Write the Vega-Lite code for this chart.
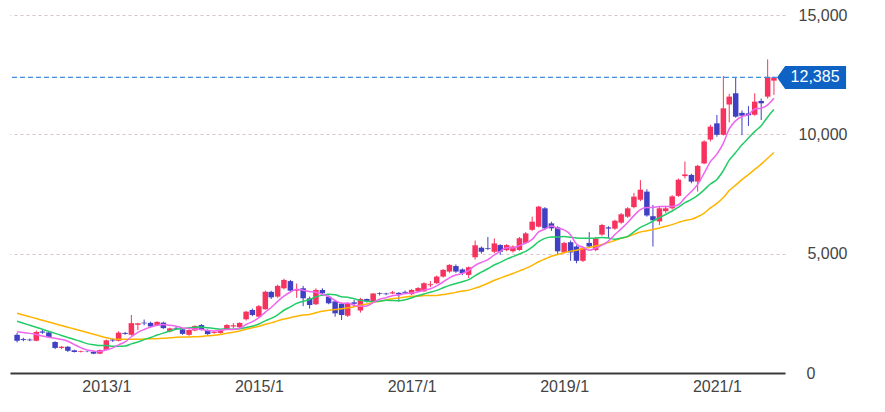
{
  "$schema": "https://vega.github.io/schema/vega-lite/v6.json",
  "width": 775,
  "height": 358,
  "autosize": {"type": "none"},
  "padding": {"left": 10, "top": 15, "right": 100, "bottom": 39},
  "background": "white",
  "config": {"view": {"stroke": null}, "font": "Liberation Sans"},
  "data": {"values": [
    {"d":"2011-11-01","o":1600,"h":1680,"l":1280,"c":1350,"m6":1730,"m12":2170,"m24":2500},
    {"d":"2011-12-01","o":1420,"h":1480,"l":1330,"c":1380,"m6":1700,"m12":2085,"m24":2427},
    {"d":"2012-01-01","o":1400,"h":1450,"l":1330,"c":1370,"m6":1660,"m12":2000,"m24":2354},
    {"d":"2012-02-01","o":1350,"h":1780,"l":1330,"c":1720,"m6":1610,"m12":1915,"m24":2281},
    {"d":"2012-03-01","o":1740,"h":1800,"l":1640,"c":1690,"m6":1550,"m12":1830,"m24":2208},
    {"d":"2012-04-01","o":1700,"h":1740,"l":1470,"c":1500,"m6":1502,"m12":1745,"m24":2135},
    {"d":"2012-05-01","o":1300,"h":1330,"l":1000,"c":1050,"m6":1452,"m12":1660,"m24":2062},
    {"d":"2012-06-01","o":1050,"h":1130,"l":1000,"c":1100,"m6":1405,"m12":1575,"m24":1990},
    {"d":"2012-07-01","o":1100,"h":1130,"l":880,"c":930,"m6":1332,"m12":1490,"m24":1917},
    {"d":"2012-08-01","o":950,"h":980,"l":860,"c":880,"m6":1192,"m12":1405,"m24":1844},
    {"d":"2012-09-01","o":880,"h":940,"l":860,"c":910,"m6":1062,"m12":1320,"m24":1771},
    {"d":"2012-10-01","o":905,"h":930,"l":870,"c":895,"m6":961,"m12":1231,"m24":1698},
    {"d":"2012-11-01","o":890,"h":900,"l":790,"c":810,"m6":921,"m12":1186,"m24":1625},
    {"d":"2012-12-01","o":810,"h":980,"l":790,"c":960,"m6":898,"m12":1151,"m24":1552},
    {"d":"2013-01-01","o":960,"h":1400,"l":940,"c":1370,"m6":971,"m12":1151,"m24":1480},
    {"d":"2013-02-01","o":1400,"h":1450,"l":1300,"c":1360,"m6":1051,"m12":1121,"m24":1430},
    {"d":"2013-03-01","o":1350,"h":1750,"l":1320,"c":1690,"m6":1181,"m12":1121,"m24":1415},
    {"d":"2013-04-01","o":1680,"h":1720,"l":1600,"c":1640,"m6":1305,"m12":1133,"m24":1410},
    {"d":"2013-05-01","o":1600,"h":2430,"l":1560,"c":2090,"m6":1518,"m12":1220,"m24":1410},
    {"d":"2013-06-01","o":2020,"h":2100,"l":1800,"c":2080,"m6":1705,"m12":1301,"m24":1415},
    {"d":"2013-07-01","o":2110,"h":2240,"l":2000,"c":2080,"m6":1823,"m12":1397,"m24":1420},
    {"d":"2013-08-01","o":2100,"h":2150,"l":1900,"c":1950,"m6":1922,"m12":1486,"m24":1430},
    {"d":"2013-09-01","o":2010,"h":2170,"l":1980,"c":2140,"m6":1997,"m12":1589,"m24":1440},
    {"d":"2013-10-01","o":2110,"h":2150,"l":1850,"c":1880,"m6":2037,"m12":1671,"m24":1451},
    {"d":"2013-11-01","o":1740,"h":1900,"l":1700,"c":1870,"m6":2000,"m12":1759,"m24":1473},
    {"d":"2013-12-01","o":1890,"h":1930,"l":1820,"c":1860,"m6":1963,"m12":1834,"m24":1493},
    {"d":"2014-01-01","o":1830,"h":1870,"l":1600,"c":1640,"m6":1890,"m12":1857,"m24":1504},
    {"d":"2014-02-01","o":1600,"h":1830,"l":1560,"c":1800,"m6":1865,"m12":1893,"m24":1507},
    {"d":"2014-03-01","o":1780,"h":2000,"l":1750,"c":1970,"m6":1837,"m12":1917,"m24":1519},
    {"d":"2014-04-01","o":2010,"h":2050,"l":1780,"c":1800,"m6":1823,"m12":1930,"m24":1531},
    {"d":"2014-05-01","o":1800,"h":1830,"l":1600,"c":1630,"m6":1783,"m12":1892,"m24":1556},
    {"d":"2014-06-01","o":1680,"h":1760,"l":1650,"c":1720,"m6":1760,"m12":1862,"m24":1581},
    {"d":"2014-07-01","o":1680,"h":1830,"l":1650,"c":1800,"m6":1787,"m12":1838,"m24":1618},
    {"d":"2014-08-01","o":1830,"h":2050,"l":1800,"c":2010,"m6":1822,"m12":1843,"m24":1665},
    {"d":"2014-09-01","o":1950,"h":2090,"l":1870,"c":2000,"m6":1827,"m12":1832,"m24":1710},
    {"d":"2014-10-01","o":1920,"h":2120,"l":1880,"c":2100,"m6":1877,"m12":1850,"m24":1760},
    {"d":"2014-11-01","o":2250,"h":2600,"l":2200,"c":2570,"m6":2033,"m12":1908,"m24":1834},
    {"d":"2014-12-01","o":2640,"h":2700,"l":2380,"c":2430,"m6":2152,"m12":1956,"m24":1895},
    {"d":"2015-01-01","o":2360,"h":2850,"l":2330,"c":2800,"m6":2318,"m12":2053,"m24":1955},
    {"d":"2015-02-01","o":2670,"h":3450,"l":2650,"c":3400,"m6":2550,"m12":2186,"m24":2040},
    {"d":"2015-03-01","o":3400,"h":3450,"l":3100,"c":3170,"m6":2745,"m12":2286,"m24":2101},
    {"d":"2015-04-01","o":3200,"h":3700,"l":3150,"c":3650,"m6":3003,"m12":2440,"m24":2185},
    {"d":"2015-05-01","o":3550,"h":3950,"l":3500,"c":3900,"m6":3225,"m12":2629,"m24":2260},
    {"d":"2015-06-01","o":3850,"h":3900,"l":3400,"c":3450,"m6":3395,"m12":2773,"m24":2318},
    {"d":"2015-07-01","o":3450,"h":3750,"l":3150,"c":3500,"m6":3512,"m12":2915,"m24":2377},
    {"d":"2015-08-01","o":3550,"h":3650,"l":2800,"c":3130,"m6":3467,"m12":3008,"m24":2426},
    {"d":"2015-09-01","o":3130,"h":3200,"l":2700,"c":2850,"m6":3413,"m12":3079,"m24":2455},
    {"d":"2015-10-01","o":2880,"h":3550,"l":2850,"c":3480,"m6":3385,"m12":3194,"m24":2522},
    {"d":"2015-11-01","o":3480,"h":3550,"l":3300,"c":3340,"m6":3292,"m12":3258,"m24":2583},
    {"d":"2015-12-01","o":3200,"h":3250,"l":2880,"c":2920,"m6":3203,"m12":3299,"m24":2628},
    {"d":"2016-01-01","o":3000,"h":3050,"l":2360,"c":2500,"m6":3037,"m12":3274,"m24":2663},
    {"d":"2016-02-01","o":2900,"h":2950,"l":2220,"c":2430,"m6":2920,"m12":3193,"m24":2690},
    {"d":"2016-03-01","o":2400,"h":2950,"l":2350,"c":2920,"m6":2932,"m12":3173,"m24":2729},
    {"d":"2016-04-01","o":2960,"h":3060,"l":2780,"c":2900,"m6":2835,"m12":3110,"m24":2775},
    {"d":"2016-05-01","o":2620,"h":3150,"l":2530,"c":3100,"m6":2795,"m12":3043,"m24":2836},
    {"d":"2016-06-01","o":3100,"h":3120,"l":2950,"c":3000,"m6":2808,"m12":3006,"m24":2890},
    {"d":"2016-07-01","o":3000,"h":3350,"l":2980,"c":3330,"m6":2947,"m12":2992,"m24":2953},
    {"d":"2016-08-01","o":3340,"h":3380,"l":3250,"c":3310,"m6":3093,"m12":3007,"m24":3008},
    {"d":"2016-09-01","o":3330,"h":3360,"l":3260,"c":3300,"m6":3157,"m12":3044,"m24":3062},
    {"d":"2016-10-01","o":3330,"h":3440,"l":3300,"c":3380,"m6":3237,"m12":3036,"m24":3115},
    {"d":"2016-11-01","o":3360,"h":3380,"l":2990,"c":3290,"m6":3268,"m12":3032,"m24":3145},
    {"d":"2016-12-01","o":3400,"h":3450,"l":3300,"c":3360,"m6":3328,"m12":3068,"m24":3184},
    {"d":"2017-01-01","o":3300,"h":3520,"l":3270,"c":3480,"m6":3353,"m12":3150,"m24":3212},
    {"d":"2017-02-01","o":3420,"h":3600,"l":3400,"c":3560,"m6":3395,"m12":3244,"m24":3219},
    {"d":"2017-03-01","o":3420,"h":3800,"l":3400,"c":3760,"m6":3472,"m12":3314,"m24":3243},
    {"d":"2017-04-01","o":3680,"h":3850,"l":3600,"c":3720,"m6":3528,"m12":3383,"m24":3246},
    {"d":"2017-05-01","o":3760,"h":4080,"l":3740,"c":4040,"m6":3653,"m12":3461,"m24":3252},
    {"d":"2017-06-01","o":4040,"h":4360,"l":4000,"c":4320,"m6":3813,"m12":3571,"m24":3288},
    {"d":"2017-07-01","o":4250,"h":4560,"l":4200,"c":4530,"m6":3988,"m12":3671,"m24":3331},
    {"d":"2017-08-01","o":4480,"h":4550,"l":4200,"c":4250,"m6":4103,"m12":3749,"m24":3378},
    {"d":"2017-09-01","o":4340,"h":4380,"l":4100,"c":4180,"m6":4173,"m12":3823,"m24":3433},
    {"d":"2017-10-01","o":4110,"h":4460,"l":3980,"c":4430,"m6":4292,"m12":3910,"m24":3473},
    {"d":"2017-11-01","o":4850,"h":5550,"l":4750,"c":5350,"m6":4510,"m12":4082,"m24":3557},
    {"d":"2017-12-01","o":5250,"h":5300,"l":5000,"c":5080,"m6":4637,"m12":4225,"m24":3647},
    {"d":"2018-01-01","o":5230,"h":5700,"l":5150,"c":5200,"m6":4748,"m12":4368,"m24":3759},
    {"d":"2018-02-01","o":5080,"h":5640,"l":5020,"c":5430,"m6":4945,"m12":4524,"m24":3884},
    {"d":"2018-03-01","o":5360,"h":5400,"l":4950,"c":5080,"m6":5095,"m12":4634,"m24":3974},
    {"d":"2018-04-01","o":5150,"h":5400,"l":5100,"c":5360,"m6":5250,"m12":4771,"m24":4077},
    {"d":"2018-05-01","o":5100,"h":5350,"l":5050,"c":5300,"m6":5242,"m12":4876,"m24":4168},
    {"d":"2018-06-01","o":5150,"h":5700,"l":5120,"c":5650,"m6":5337,"m12":4987,"m24":4279},
    {"d":"2018-07-01","o":5450,"h":5900,"l":5400,"c":5850,"m6":5445,"m12":5097,"m24":4384},
    {"d":"2018-08-01","o":6000,"h":6550,"l":5950,"c":6340,"m6":5597,"m12":5271,"m24":4510},
    {"d":"2018-09-01","o":6130,"h":7000,"l":6100,"c":6970,"m6":5912,"m12":5503,"m24":4663},
    {"d":"2018-10-01","o":6900,"h":6950,"l":6000,"c":6060,"m6":6028,"m12":5639,"m24":4775},
    {"d":"2018-11-01","o":6270,"h":6340,"l":5950,"c":6060,"m6":6155,"m12":5698,"m24":4890},
    {"d":"2018-12-01","o":6100,"h":6150,"l":4950,"c":5100,"m6":6063,"m12":5700,"m24":4963},
    {"d":"2019-01-01","o":5050,"h":5500,"l":5000,"c":5450,"m6":5997,"m12":5721,"m24":5045},
    {"d":"2019-02-01","o":5480,"h":5550,"l":4700,"c":5050,"m6":5782,"m12":5689,"m24":5107},
    {"d":"2019-03-01","o":5300,"h":5350,"l":4600,"c":4700,"m6":5403,"m12":5658,"m24":5146},
    {"d":"2019-04-01","o":4700,"h":5300,"l":4650,"c":5250,"m6":5268,"m12":5648,"m24":5210},
    {"d":"2019-05-01","o":5450,"h":5900,"l":5250,"c":5300,"m6":5142,"m12":5648,"m24":5262},
    {"d":"2019-06-01","o":5150,"h":5700,"l":5100,"c":5640,"m6":5232,"m12":5648,"m24":5317},
    {"d":"2019-07-01","o":5800,"h":6250,"l":5750,"c":6200,"m6":5357,"m12":5677,"m24":5387},
    {"d":"2019-08-01","o":6100,"h":6150,"l":5650,"c":6050,"m6":5523,"m12":5653,"m24":5462},
    {"d":"2019-09-01","o":6050,"h":6420,"l":6000,"c":6380,"m6":5803,"m12":5603,"m24":5553},
    {"d":"2019-10-01","o":6300,"h":6700,"l":6250,"c":6650,"m6":6037,"m12":5653,"m24":5646},
    {"d":"2019-11-01","o":6550,"h":6950,"l":6500,"c":6900,"m6":6303,"m12":5723,"m24":5710},
    {"d":"2019-12-01","o":6950,"h":7550,"l":6900,"c":7390,"m6":6595,"m12":5913,"m24":5807},
    {"d":"2020-01-01","o":7260,"h":8080,"l":7200,"c":7680,"m6":6842,"m12":6099,"m24":5910},
    {"d":"2020-02-01","o":7600,"h":7700,"l":6550,"c":6600,"m6":6933,"m12":6228,"m24":5959},
    {"d":"2020-03-01","o":6570,"h":7040,"l":5300,"c":6400,"m6":6937,"m12":6370,"m24":6014},
    {"d":"2020-04-01","o":6350,"h":6950,"l":6200,"c":6900,"m6":6978,"m12":6508,"m24":6078},
    {"d":"2020-05-01","o":6780,"h":7000,"l":6700,"c":6900,"m6":6978,"m12":6641,"m24":6145},
    {"d":"2020-06-01","o":6900,"h":7450,"l":6850,"c":7400,"m6":6980,"m12":6788,"m24":6218},
    {"d":"2020-07-01","o":7420,"h":8150,"l":7380,"c":8100,"m6":7050,"m12":6946,"m24":6311},
    {"d":"2020-08-01","o":8250,"h":8860,"l":8150,"c":8320,"m6":7337,"m12":7135,"m24":6394},
    {"d":"2020-09-01","o":8300,"h":8350,"l":7950,"c":8020,"m6":7607,"m12":7272,"m24":6438},
    {"d":"2020-10-01","o":8020,"h":8720,"l":7600,"c":8680,"m6":7903,"m12":7441,"m24":6547},
    {"d":"2020-11-01","o":8780,"h":9750,"l":8750,"c":9700,"m6":8370,"m12":7674,"m24":6698},
    {"d":"2020-12-01","o":9780,"h":10400,"l":9700,"c":10320,"m6":8857,"m12":7918,"m24":6916},
    {"d":"2021-01-01","o":10460,"h":10810,"l":9900,"c":9980,"m6":9170,"m12":8110,"m24":7105},
    {"d":"2021-02-01","o":9980,"h":12450,"l":9950,"c":11090,"m6":9632,"m12":8484,"m24":7356},
    {"d":"2021-03-01","o":11250,"h":11700,"l":10500,"c":11580,"m6":10225,"m12":8916,"m24":7643},
    {"d":"2021-04-01","o":11720,"h":12380,"l":10700,"c":10740,"m6":10568,"m12":9236,"m24":7872},
    {"d":"2021-05-01","o":10900,"h":11000,"l":9970,"c":10780,"m6":10748,"m12":9559,"m24":8100},
    {"d":"2021-06-01","o":10880,"h":11180,"l":10350,"c":10800,"m6":10828,"m12":9843,"m24":8315},
    {"d":"2021-07-01","o":10820,"h":11720,"l":10780,"c":11370,"m6":11060,"m12":10115,"m24":8530},
    {"d":"2021-08-01","o":11400,"h":11500,"l":10600,"c":11300,"m6":11095,"m12":10363,"m24":8749},
    {"d":"2021-09-01","o":11580,"h":13140,"l":11500,"c":12410,"m6":11233,"m12":10729,"m24":9000},
    {"d":"2021-10-01","o":12250,"h":12420,"l":11650,"c":12385,"m6":11508,"m12":11038,"m24":9239}
  ]},
  "layer": [
    {
      "mark": {"type": "rule", "strokeWidth": 1},
      "encoding": {
        "x": {"field": "d", "type": "temporal", "title": null,
          "scale": {"type": "utc", "domain": [{"year": 2011, "month": 10, "date": 22, "utc": true}, {"year": 2021, "month": 10, "date": 30, "utc": true}]},
          "axis": {"orient": "bottom", "labelExpr": "utcFormat(datum.value, '%Y/%-m')",
            "values": [{"year": 2013, "month": 1, "date": 1, "utc": true}, {"year": 2015, "month": 1, "date": 1, "utc": true}, {"year": 2017, "month": 1, "date": 1, "utc": true}, {"year": 2019, "month": 1, "date": 1, "utc": true}, {"year": 2021, "month": 1, "date": 1, "utc": true}],
            "grid": false, "ticks": false, "domainColor": "#3a3a3a", "domainWidth": 2,
            "labelFontSize": 16, "labelColor": "#444444", "labelPadding": 5, "labelFlush": false, "labelOverlap": false, "labelFont": "Liberation Sans"}},
        "y": {"field": "l", "type": "quantitative", "title": null,
          "scale": {"domain": [0, 15000], "nice": false, "zero": true},
          "axis": {"orient": "right", "values": [0, 5000, 10000, 15000], "labelExpr": "format(datum.value, ',.0f')",
            "grid": true, "gridDash": [3, 3], "gridColor": "#d9c2c9", "gridWidth": 1,
            "domain": false, "ticks": false, "labelAlign": "right", "labelBaseline": "middle",
            "labelPadding": {"condition": {"test": "datum.value == 0", "value": 30}, "value": 62},
            "labelFontSize": 16, "labelColor": "#444444", "labelFont": "Liberation Sans"}},
        "y2": {"field": "h"},
        "color": {"condition": {"test": "datum.c >= datum.o", "value": "#f8325f"}, "value": "#4040c4"}
      }
    },
    {
      "mark": {"type": "bar", "width": 5.5},
      "encoding": {
        "x": {"field": "d", "type": "temporal", "title": null},
        "y": {"field": "o", "type": "quantitative", "title": null},
        "y2": {"field": "c"},
        "color": {"condition": {"test": "datum.c >= datum.o", "value": "#f8325f"}, "value": "#4040c4"}
      }
    },
    {
      "mark": {"type": "line", "color": "#ffb400", "strokeWidth": 1.5, "interpolate": "monotone"},
      "encoding": {
        "x": {"field": "d", "type": "temporal", "title": null},
        "y": {"field": "m24", "type": "quantitative", "title": null}
      }
    },
    {
      "mark": {"type": "line", "color": "#22cc66", "strokeWidth": 1.5, "interpolate": "monotone"},
      "encoding": {
        "x": {"field": "d", "type": "temporal", "title": null},
        "y": {"field": "m12", "type": "quantitative", "title": null}
      }
    },
    {
      "mark": {"type": "line", "color": "#ee66ee", "strokeWidth": 1.5, "interpolate": "monotone"},
      "encoding": {
        "x": {"field": "d", "type": "temporal", "title": null},
        "y": {"field": "m6", "type": "quantitative", "title": null}
      }
    },
    {
      "data": {"values": [{"v": 12385}]},
      "mark": {"type": "rule", "color": "#3f8fe0", "stroke": "#3f8fe0", "strokeDash": [5, 3], "strokeWidth": 1.3, "opacity": 1},
      "encoding": {"y": {"field": "v", "type": "quantitative", "title": null}}
    },
    {
      "data": {"values": [{"v": 12385}]},
      "mark": {"type": "point", "shape": "M0,0L0.35,-0.5L3,-0.5L3,0.5L0.35,0.5Z", "size": 2116, "filled": true, "color": "#0d62c4", "opacity": 1, "strokeWidth": 0},
      "encoding": {
        "x": {"datum": {"year": 2021, "month": 10, "date": 16, "utc": true}, "type": "temporal"},
        "y": {"field": "v", "type": "quantitative", "title": null}
      }
    },
    {
      "data": {"values": [{"v": 12385}]},
      "mark": {"type": "text", "dx": 38, "color": "white", "fontSize": 16, "align": "center", "baseline": "middle", "font": "Liberation Sans"},
      "encoding": {
        "x": {"datum": {"year": 2021, "month": 10, "date": 16, "utc": true}, "type": "temporal"},
        "y": {"field": "v", "type": "quantitative", "title": null},
        "text": {"field": "v", "type": "quantitative", "format": ","}
      }
    }
  ]
}
